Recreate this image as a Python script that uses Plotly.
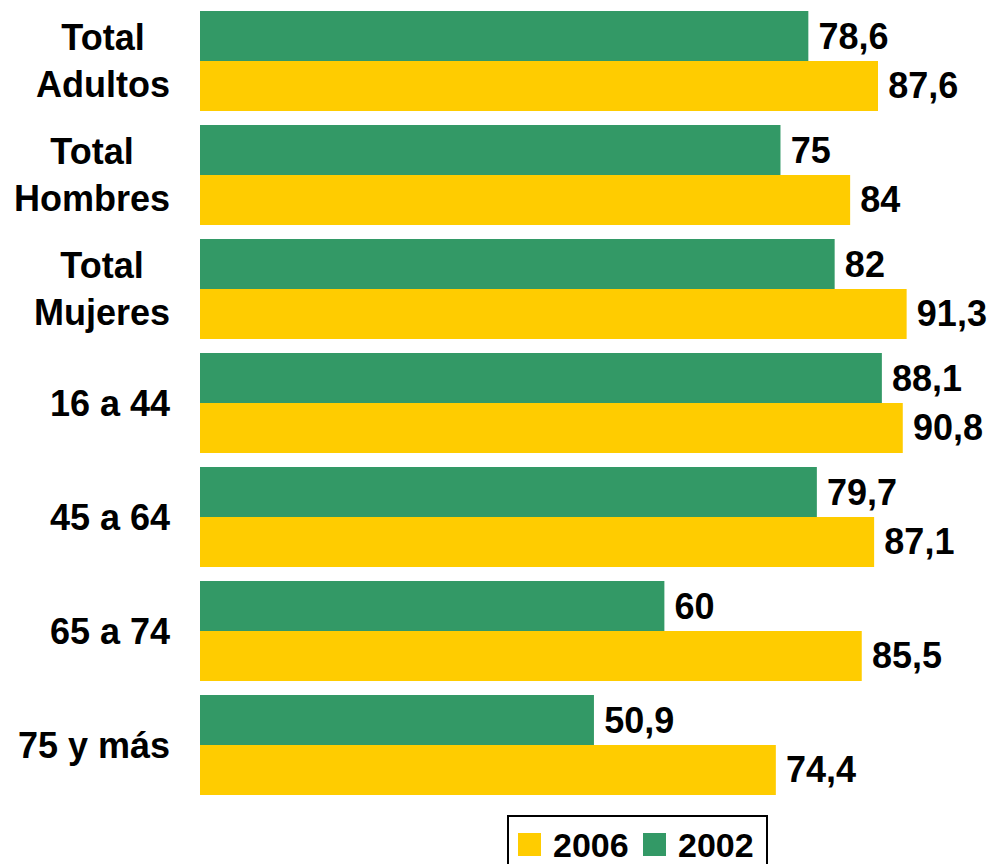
import plotly.graph_objects as go

categories = ["Total<br>Adultos", "Total<br>Hombres", "Total<br>Mujeres",
              "16 a 44", "45 a 64", "65 a 74", "75 y más"]
values_2002 = [78.6, 75, 82, 88.1, 79.7, 60, 50.9]
values_2006 = [87.6, 84, 91.3, 90.8, 87.1, 85.5, 74.4]

GREEN = "#339966"
YELLOW = "#FFCC00"
FONT = "Liberation Sans, Arial, sans-serif"
FS = 36
FS_LEGEND = 34

W, H = 991, 864
ML, MR, MT, MB = 200, 0, 4, 62
PW, PH = W - ML - MR, H - MT - MB


def fmt(v):
    return f"{v:g}".replace(".", ",")


def px(x):
    return (x - ML) / PW


def py(y):
    return (H - MB - y) / PH


fig = go.Figure()
for name, vals, col in [("2002", values_2002, GREEN), ("2006", values_2006, YELLOW)]:
    fig.add_trace(go.Bar(
        y=categories, x=vals, name=name, orientation="h",
        marker=dict(color=col, line=dict(width=0)),
        text=["\u2009" + fmt(v) for v in vals], textposition="outside",
        textfont=dict(family=FONT, size=FS, color="black", weight="bold"),
        constraintext="none", cliponaxis=False, showlegend=False,
    ))

# category labels, centred line by line
for c in categories:
    fig.add_annotation(
        x=0, xref="paper", y=c, yref="y", text=c, showarrow=False,
        xanchor="right", yanchor="middle", align="center", xshift=-28,
        font=dict(family=FONT, size=FS, color="black", weight="bold"),
    )

# legend box
fig.add_shape(type="rect", xref="paper", yref="paper",
              x0=px(508), x1=px(767), y0=py(816), y1=py(880),
              line=dict(color="black", width=2), fillcolor="white")
legend_items = [("2006", YELLOW, 518, 551), ("2002", GREEN, 643, 676)]
for label, col, sx, tx in legend_items:
    fig.add_shape(type="rect", xref="paper", yref="paper",
                  x0=px(sx), x1=px(sx + 23), y0=py(856), y1=py(833),
                  line=dict(width=0), fillcolor=col)
    fig.add_annotation(x=px(tx), y=py(845), xref="paper", yref="paper",
                       text=label, showarrow=False, xanchor="left", yanchor="middle",
                       font=dict(family=FONT, size=FS_LEGEND, color="black", weight="bold"))

fig.update_layout(
    width=W, height=H, margin=dict(l=ML, r=MR, t=MT, b=MB),
    barmode="group", bargap=0.123, bargroupgap=0,
    plot_bgcolor="white", paper_bgcolor="white",
    showlegend=False,
)
fig.update_xaxes(range=[0, 102.2], visible=False)
fig.update_yaxes(autorange="reversed", showticklabels=False, showgrid=False,
                 zeroline=False, showline=False)

fig.write_html("out.html")
